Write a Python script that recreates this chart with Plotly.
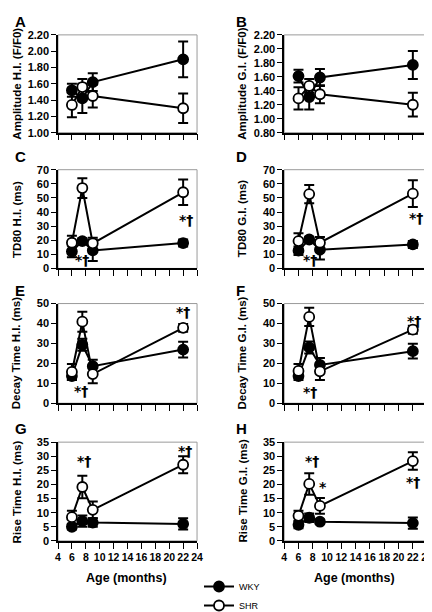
import plotly.graph_objects as go

months = [6, 7.5, 9, 22]

# Panel data (mean and SEM) for WKY and SHR
amp_hi_wky = [1.52, 1.42, 1.62, 1.90]
amp_hi_wky_err = [0.08, 0.18, 0.11, 0.22]
amp_hi_shr = [1.34, 1.56, 1.45, 1.30]
amp_hi_shr_err = [0.15, 0.10, 0.14, 0.18]

amp_gi_wky = [1.61, 1.31, 1.59, 1.77]
amp_gi_wky_err = [0.09, 0.18, 0.12, 0.20]
amp_gi_shr = [1.29, 1.47, 1.35, 1.20]
amp_gi_shr_err = [0.16, 0.10, 0.13, 0.17]

td80_hi_wky = [12.0, 19.4, 12.8, 18.0]
td80_hi_wky_err = [4.0, 2.0, 7.5, 2.5]
td80_hi_shr = [18.2, 57.0, 17.8, 54.0]
td80_hi_shr_err = [5.0, 7.0, 4.0, 9.0]

td80_gi_wky = [12.6, 20.5, 13.3, 17.0]
td80_gi_wky_err = [3.0, 2.0, 7.0, 2.5]
td80_gi_shr = [19.4, 52.7, 18.2, 53.0]
td80_gi_shr_err = [5.5, 6.5, 4.0, 9.5]

decay_hi_wky = [13.6, 29.3, 18.6, 26.9]
decay_hi_wky_err = [2.0, 3.0, 3.2, 4.0]
decay_hi_shr = [15.7, 40.9, 14.6, 37.8]
decay_hi_shr_err = [4.0, 5.0, 4.6, 2.0]

decay_gi_wky = [13.6, 28.0, 19.2, 26.1]
decay_gi_wky_err = [2.0, 3.0, 3.5, 3.7]
decay_gi_shr = [16.2, 43.3, 16.0, 36.9]
decay_gi_shr_err = [3.5, 4.6, 4.3, 2.0]

rise_hi_wky = [5.0, 7.0, 6.5, 6.0]
rise_hi_wky_err = [1.0, 2.0, 1.5, 2.0]
rise_hi_shr = [8.4, 19.1, 11.0, 27.0]
rise_hi_shr_err = [2.3, 4.0, 3.0, 3.0]

rise_gi_wky = [5.7, 8.2, 6.8, 6.3]
rise_gi_wky_err = [1.2, 1.5, 0.8, 2.0]
rise_gi_shr = [8.9, 20.2, 12.4, 28.3]
rise_gi_shr_err = [1.8, 3.8, 2.8, 3.1]

panel_letters = ["A", "B", "C", "D", "E", "F", "G", "H"]
y_titles = ["Amplitude H.I. (F/F0)", "Amplitude G.I. (F/F0)",
            "TD80 H.I. (ms)", "TD80 G.I. (ms)",
            "Decay Time H.I. (ms)", "Decay Time G.I. (ms)",
            "Rise Time H.I. (ms)", "Rise Time G.I. (ms)"]
y_ranges = [[1.0, 2.2], [0.8, 2.2], [0, 70], [0, 70], [0, 50], [0, 50], [0, 35], [0, 35]]
y_dticks = [0.2, 0.2, 10, 10, 10, 10, 5, 5]
x_ticks = list(range(4, 25, 2))
x_title = "Age (months)"
series_names = ["WKY", "SHR"]

# significance markers per panel
sig_x = [[], [], [7.4, 22.4], [7.6, 22.4], [7.3, 22.0], [7.6, 22.2], [7.8, 22.2], [7.9, 9.4, 22.0]]
sig_y = [[], [], [6.0, 34.6], [6.0, 35.8], [6.0, 46.0], [5.8, 41.3], [28.3, 31.7], [28.3, 19.1, 20.8]]
sig_text = [[], [], ["*†", "*†"], ["*†", "*†"], ["*†", "*†"], ["*†", "*†"], ["*†", "*†"], ["*†", "*", "*†"]]

panels = [
    (amp_hi_wky, amp_hi_wky_err, amp_hi_shr, amp_hi_shr_err),
    (amp_gi_wky, amp_gi_wky_err, amp_gi_shr, amp_gi_shr_err),
    (td80_hi_wky, td80_hi_wky_err, td80_hi_shr, td80_hi_shr_err),
    (td80_gi_wky, td80_gi_wky_err, td80_gi_shr, td80_gi_shr_err),
    (decay_hi_wky, decay_hi_wky_err, decay_hi_shr, decay_hi_shr_err),
    (decay_gi_wky, decay_gi_wky_err, decay_gi_shr, decay_gi_shr_err),
    (rise_hi_wky, rise_hi_wky_err, rise_hi_shr, rise_hi_shr_err),
    (rise_gi_wky, rise_gi_wky_err, rise_gi_shr, rise_gi_shr_err),
]

W, H = 432, 612
FONT = "'Liberation Sans', Arial, sans-serif"
SIGFONT = "'DejaVu Sans', 'Liberation Sans', sans-serif"

# pixel layout of plot areas
col_px = [(48, 190), (279, 425)]
row_px = [(22, 125), (164, 268), (305, 410), (451, 555)]

fig = go.Figure()
annotations = []
shapes = []
layout_axes = {}

for i, (wky, wky_e, shr, shr_e) in enumerate(panels):
    r, c = divmod(i, 2)
    n = i + 1
    xa = "x" if n == 1 else f"x{n}"
    ya = "y" if n == 1 else f"y{n}"
    xkey = "xaxis" if n == 1 else f"xaxis{n}"
    ykey = "yaxis" if n == 1 else f"yaxis{n}"
    x0, x1 = col_px[c]
    y0, y1 = row_px[r]
    layout_axes[xkey] = dict(
        domain=[x0 / W, x1 / W], anchor=ya, range=[4, 24],
        tickmode="array", tickvals=x_ticks, ticktext=[str(t) for t in x_ticks],
        showticklabels=(r == 3), ticks="outside", ticklen=6, tickwidth=1,
        tickcolor="black", showline=True, linecolor="black", linewidth=1.5,
        showgrid=False, zeroline=False, tickangle=0,
        tickfont=dict(family=FONT, size=10.5, color="black", weight="bold"),
    )
    fmt = ".2f" if r == 0 else "d"
    layout_axes[ykey] = dict(
        domain=[1 - y1 / H, 1 - y0 / H], anchor=xa, range=y_ranges[i],
        dtick=y_dticks[i], tick0=0, tickformat=fmt,
        ticks="outside", ticklen=5, tickwidth=1, tickcolor="black",
        showline=True, linecolor="black", linewidth=1.5,
        showgrid=False, zeroline=False,
        tickfont=dict(family=FONT, size=11, color="black", weight="bold"),
    )
    # gray frame (top/right)
    shapes.append(dict(type="rect", xref=f"{xa} domain", yref=f"{ya} domain",
                       x0=0, x1=1, y0=0, y1=1, line=dict(color="#9a9a9a", width=1),
                       layer="below"))
    for name, vals, errs, fill in [(series_names[0], wky, wky_e, "black"),
                                   (series_names[1], shr, shr_e, "white")]:
        fig.add_trace(go.Scatter(
            x=months, y=vals, xaxis=xa, yaxis=ya, name=name,
            mode="lines+markers", showlegend=(i == 0),
            line=dict(color="black", width=2),
            marker=dict(symbol="circle", size=10, color=fill,
                        line=dict(color="black", width=1.8)),
            error_y=dict(type="data", array=errs, visible=True,
                         color="black", thickness=2, width=5),
        ))
    # panel letter
    annotations.append(dict(text=f"<b>{panel_letters[i]}</b>", xref="paper", yref="paper",
                            x=(2 if c == 0 else 228) / W, y=1 - (y0 - 14) / H,
                            xanchor="left", yanchor="middle", showarrow=False,
                            font=dict(family=FONT, size=15, color="black")))
    # y title
    annotations.append(dict(text=f"<b>{y_titles[i]}</b>", xref="paper", yref="paper",
                            x=(6 if c == 0 else 236) / W, y=1 - ((y0 + y1) / 2) / H,
                            xanchor="center", yanchor="middle", textangle=-90,
                            showarrow=False,
                            font=dict(family=FONT, size=11.5, color="black")))
    for sx, sy, st in zip(sig_x[i], sig_y[i], sig_text[i]):
        annotations.append(dict(text=f"<b>{st}</b>", x=sx, y=sy, xref=xa, yref=ya,
                                showarrow=False, xanchor="center", yanchor="middle",
                                font=dict(family=SIGFONT, size=14, color="black")))

for c in range(2):
    x0, x1 = col_px[c]
    annotations.append(dict(text=f"<b>{x_title}</b>", xref="paper", yref="paper",
                            x=((x0 + x1) / 2 - 1) / W, y=1 - 594 / H,
                            xanchor="center", yanchor="middle", showarrow=False,
                            font=dict(family=FONT, size=12.5, color="black")))

fig.update_layout(
    width=W, height=H, margin=dict(l=0, r=0, t=0, b=0),
    paper_bgcolor="white", plot_bgcolor="white",
    font=dict(family=FONT, color="black"),
    showlegend=True,
    legend=dict(x=192 / W, y=1 - 588 / H, xanchor="left", yanchor="top",
                bgcolor="rgba(0,0,0,0)", font=dict(family=FONT, size=9, color="black"),
                itemwidth=30, tracegroupgap=0),
    annotations=annotations, shapes=shapes,
    **layout_axes,
)

fig.write_html("out.html")
